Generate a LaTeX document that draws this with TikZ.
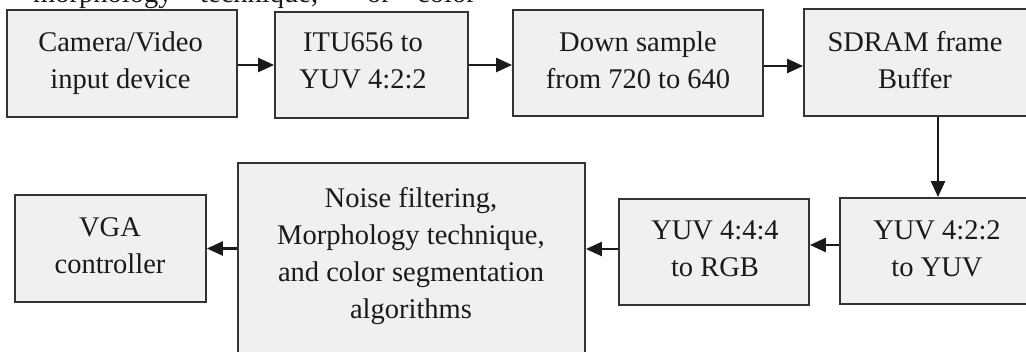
\documentclass[tikz,border=0pt]{standalone}
\usepackage{fontspec}
\setmainfont{Liberation Serif}
\usetikzlibrary{arrows.meta}
\definecolor{boxfill}{HTML}{F0F0F0}
\definecolor{boxline}{HTML}{333333}
\definecolor{ink}{HTML}{1A1A1A}
\begin{document}
\begin{tikzpicture}[x=1pt,y=-1pt,
  blk/.style={draw=boxline, line width=1.8pt, fill=boxfill, inner sep=0pt},
  txt/.style={font=\fontsize{28.5}{37}\selectfont, text=ink, align=center, inner sep=0pt, anchor=base},
  cut/.style={font=\fontsize{28.5}{37}\selectfont, text=ink, inner sep=0pt, anchor=base west},
  arr/.style={draw=ink, line width=2.4pt, -{Triangle[length=16pt,width=14pt]}}]
\useasboundingbox (0,0) rectangle (1026,352);
\clip (0,0) rectangle (1026,352);
% cut-off line of text above the figure
\node[cut] (w1) at (33,3) {morphology};
\node[cut] (w2) at (200,3) {technique,};
\node[cut] (w3) at (367,3) {or};
\node[cut] (w4) at (417,3) {color};
% boxes
\node[blk, minimum width=230pt, minimum height=107pt] (a) at (122,63.5) {};
\node[blk, minimum width=193pt, minimum height=106pt] (b) at (371.5,65) {};
\node[blk, minimum width=250pt, minimum height=106pt] (c) at (638,63) {};
\node[blk, minimum width=224pt, minimum height=107pt] (d) at (916,62.5) {};
\node[blk, minimum width=196pt, minimum height=106pt] (e) at (938,251) {};
\node[blk, minimum width=190pt, minimum height=106pt] (f) at (714,252) {};
\node[blk, minimum width=347pt, minimum height=260pt] (g) at (411.5,293) {};
\node[blk, minimum width=191pt, minimum height=107pt] (h) at (110.5,248.5) {};
% texts (anchor base = baseline of the last line)
\node[txt] (at) at (120.5,89) {Camera/Video\\input device};
\node[txt] (bt) at (363,89) {ITU656 to\\YUV 4:2:2};
\node[txt] (ct) at (638,89) {Down sample\\from 720 to 640};
\node[txt] (dt) at (915,89) {SDRAM frame\\Buffer};
\node[txt] (et) at (937,277) {YUV 4:2:2\\to YUV};
\node[txt] (ft) at (715,277) {YUV 4:4:4\\to RGB};
\node[txt] (gt) at (411,319) {Noise filtering,\\Morphology technique,\\and color segmentation\\algorithms};
\node[txt] (ht) at (110,274) {VGA\\controller};
% connectors
\draw[arr] (a.east |- 0,65) coordinate (a1) -- (b.west |- a1);
\draw[arr] (b.east |- 0,65) coordinate (b1) -- (c.west |- b1);
\draw[arr] (c.east |- 0,66) coordinate (c1) -- (d.west |- c1);
\draw[arr] (e.north |- d.south) -- (e.north);
\draw[arr] ([yshift=6pt]e.west) coordinate (e1) -- (f.east |- e1);
\draw[arr] ([yshift=3pt]f.west) coordinate (f1) -- (g.east |- f1);
\draw[arr] (g.west |- h.east) -- (h.east);
\end{tikzpicture}
\end{document}
